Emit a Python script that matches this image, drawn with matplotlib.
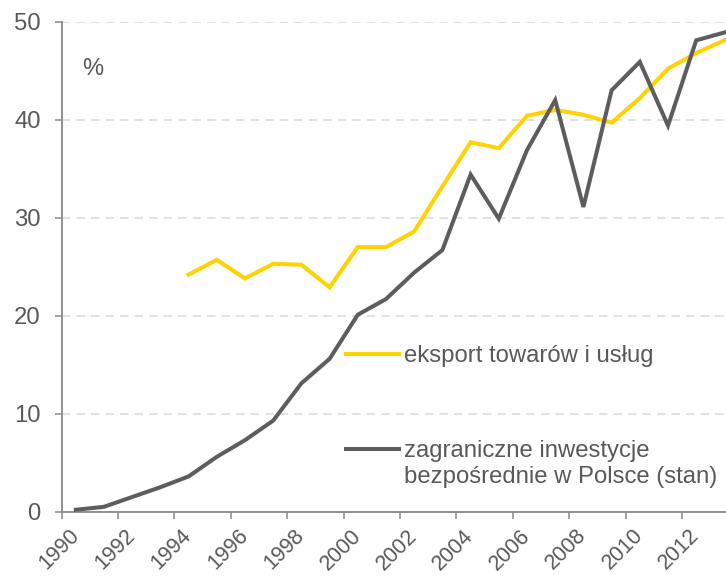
import matplotlib
matplotlib.use("Agg")
import matplotlib.pyplot as plt
from matplotlib.lines import Line2D

plt.rcParams["font.family"] = ["Liberation Sans", "DejaVu Sans"]

years_fdi = [1990, 1991, 1992, 1993, 1994, 1995, 1996, 1997, 1998, 1999, 2000, 2001,
             2002, 2003, 2004, 2005, 2006, 2007, 2008, 2009, 2010, 2011, 2012, 2013]
fdi = [0.2, 0.5, 1.5, 2.5, 3.6, 5.6, 7.3, 9.3, 13.1, 15.6, 20.1, 21.7,
       24.4, 26.7, 34.4, 29.9, 36.9, 42.0, 31.1, 43.0, 45.9, 39.4, 48.1, 48.9]

years_exp = [1994, 1995, 1996, 1997, 1998, 1999, 2000, 2001, 2002, 2003,
             2004, 2005, 2006, 2007, 2008, 2009, 2010, 2011, 2012, 2013]
export = [24.2, 25.7, 23.8, 25.3, 25.2, 22.9, 27.0, 27.0, 28.6, 33.2,
          37.7, 37.1, 40.4, 41.0, 40.5, 39.7, 42.2, 45.2, 46.8, 48.1]

label_years = [1990, 1992, 1994, 1996, 1998, 2000, 2002, 2004, 2006, 2008, 2010, 2012]
y_ticks = [0, 10, 20, 30, 40, 50]

text_col = "#595959"
axis_col = "#898989"
yellow = "#FFD200"
gray = "#5D5D5D"

W, H = 726, 580
fig = plt.figure(figsize=(W / 100, H / 100), dpi=100)
ax = fig.add_axes([61.7 / W, (H - 511.7) / H, 676.8 / W, 490 / H])

ax.plot(years_exp, export, color=yellow, lw=2.9, solid_joinstyle="miter", zorder=3)
ax.plot(years_fdi, fdi, color=gray, lw=2.9, solid_joinstyle="miter", zorder=4)

ax.set_xlim(1989.5, 2013.5)
ax.set_ylim(0, 50)

for s in ["top", "right"]:
    ax.spines[s].set_visible(False)
for s in ["left", "bottom"]:
    ax.spines[s].set_color(axis_col)
    ax.spines[s].set_linewidth(1.3)

ax.set_yticks(y_ticks)
ax.tick_params(axis="y", length=5, width=1.1, color=axis_col, pad=10,
               labelsize=17.2, labelcolor=text_col)
ax.grid(axis="y", color="#D9D9D9", lw=1.1, dashes=(5.5, 4))
ax.set_axisbelow(True)

# ticks between categories, labels at category centres
ax.set_xticks([y - 0.5 for y in label_years])
ax.set_xticklabels([])
ax.tick_params(axis="x", which="major", length=5, width=1.1, color=axis_col)
ax.set_xticks(label_years, minor=True)
ax.set_xticklabels([str(y) for y in label_years], minor=True, rotation=45,
                   ha="right", va="center", rotation_mode="anchor", fontsize=15.5,
                   color=text_col)
ax.tick_params(axis="x", which="minor", length=0, pad=15)

ax.text((93 - 61.7) / 676.8, (511.7 - 69) / 490, "%", transform=ax.transAxes,
        ha="center", va="center", fontsize=17, color=text_col)

h1 = Line2D([], [], color=yellow, lw=2.9)
leg1 = ax.legend([h1], ["eksport towarów i usług"], loc="upper left",
                 bbox_to_anchor=((345.7 - 61.7) / 676.8, (511.7 - 345) / 490),
                 frameon=False, borderpad=0, borderaxespad=0, fontsize=17.2,
                 handlelength=2.22, handletextpad=0.2, labelcolor=text_col)
ax.add_artist(leg1)

h2 = Line2D([], [], color=gray, lw=2.9)
h3 = Line2D([], [], alpha=0)
ax.legend([h2, h3], ["zagraniczne inwestycje", "bezpośrednie w Polsce (stan)"],
          loc="upper left",
          bbox_to_anchor=((345.7 - 61.7) / 676.8, (511.7 - 440) / 490),
          frameon=False, borderpad=0, borderaxespad=0, fontsize=17.2,
          handlelength=2.22, handletextpad=0.2, labelspacing=0.17,
          labelcolor=text_col)

fig.savefig("out.png", dpi=100)
